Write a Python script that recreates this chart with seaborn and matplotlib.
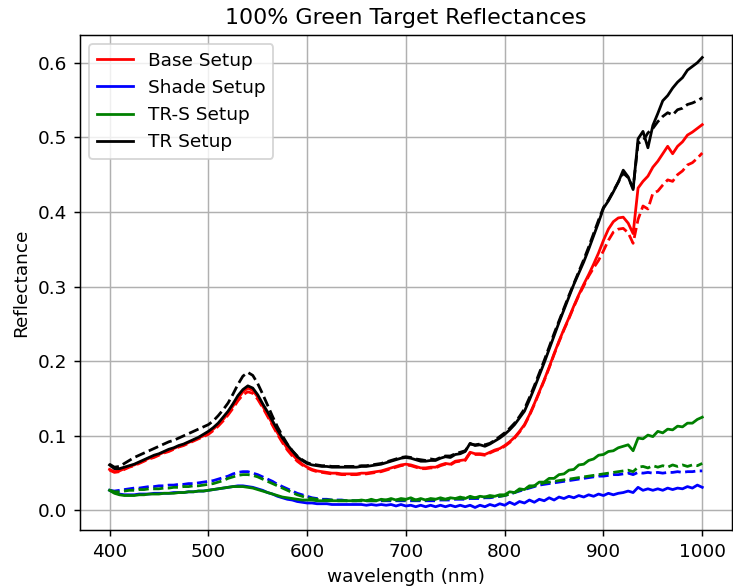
import matplotlib
matplotlib.use("Agg")
import matplotlib.pyplot as plt
import seaborn as sns

# Wavelength grid (nm), 5 nm steps
wavelength = list(range(400, 1001, 5))

# Base Setup (red)
base_solid = [
    .055, .052, .053, .056, .059, .061, .064, .067, .070, .072,
    .075, .078, .080, .083, .086, .088, .091, .094, .097, .100,
    .104, .109, .115, .122, .130, .140, .150, .159, .164, .161,
    .152, .140, .128, .116, .104, .093, .083, .075, .068, .062,
    .058, .055, .053, .052, .051, .050, .050, .049, .049, .049,
    .049, .050, .050, .051, .052, .053, .055, .057, .059, .061,
    .062, .061, .059, .057, .057, .058, .058, .061, .063, .062,
    .066, .067, .068, .078, .076, .076, .075, .078, .081, .083,
    .087, .092, .098, .106, .115, .128, .143, .159, .175, .192,
    .210, .227, .243, .258, .274, .289, .303, .316, .330, .345,
    .362, .377, .387, .392, .393, .385, .371, .432, .441, .448,
    .460, .468, .478, .488, .478, .488, .494, .503, .507, .512,
    .517]
base_dash = [
    .054, .051, .052, .055, .058, .060, .063, .066, .069, .071,
    .074, .077, .079, .082, .085, .087, .090, .093, .096, .099,
    .102, .107, .113, .120, .128, .137, .147, .155, .159, .157,
    .149, .138, .126, .114, .102, .091, .081, .073, .066, .061,
    .057, .054, .052, .051, .050, .049, .049, .048, .048, .048,
    .048, .049, .049, .050, .051, .052, .054, .056, .058, .060,
    .061, .060, .058, .056, .056, .057, .057, .060, .062, .061,
    .065, .066, .067, .077, .075, .075, .074, .077, .080, .082,
    .086, .091, .097, .105, .114, .127, .142, .158, .174, .191,
    .209, .226, .242, .257, .273, .288, .301, .314, .325, .335,
    .348, .362, .373, .377, .378, .372, .358, .390, .408, .404,
    .425, .428, .436, .443, .441, .450, .455, .463, .466, .472,
    .479]

# Shade Setup (blue)
shade_solid = [
    .027, .024, .022, .021, .021, .021, .022, .022, .022, .023,
    .023, .023, .023, .024, .024, .024, .025, .025, .026, .026,
    .027, .028, .029, .030, .031, .032, .033, .033, .032, .031,
    .029, .027, .024, .022, .019, .017, .015, .014, .012, .011,
    .010, .010, .009, .009, .009, .008, .008, .008, .008, .008,
    .008, .008, .007, .008, .007, .008, .007, .008, .006, .008,
    .006, .007, .005, .007, .005, .007, .005, .007, .005, .007,
    .005, .007, .005, .007, .004, .007, .005, .008, .006, .009,
    .007, .011, .008, .012, .010, .014, .011, .015, .013, .017,
    .014, .018, .016, .019, .017, .020, .018, .021, .019, .022,
    .020, .023, .021, .023, .024, .026, .024, .031, .027, .029,
    .027, .029, .027, .030, .028, .030, .029, .032, .030, .034,
    .031]
shade_dash = [
    .027, .026, .027, .028, .029, .030, .030, .031, .032, .032,
    .033, .033, .034, .034, .035, .035, .036, .036, .037, .038,
    .039, .040, .042, .044, .046, .049, .051, .052, .052, .050,
    .048, .045, .042, .039, .035, .032, .029, .026, .023, .021,
    .019, .017, .016, .015, .015, .014, .014, .014, .013, .013,
    .013, .013, .013, .013, .013, .013, .013, .013, .013, .013,
    .013, .013, .013, .013, .013, .013, .013, .014, .014, .014,
    .015, .015, .015, .016, .016, .016, .017, .017, .018, .019,
    .020, .022, .024, .026, .028, .030, .032, .034, .035, .036,
    .037, .038, .039, .040, .041, .042, .043, .044, .045, .046,
    .046, .047, .048, .048, .049, .050, .048, .051, .050, .051,
    .050, .051, .050, .051, .051, .052, .051, .052, .052, .053,
    .053]

# TR-S Setup (green)
trs_solid = [
    .027, .023, .021, .020, .020, .020, .021, .021, .022, .022,
    .022, .023, .023, .023, .024, .024, .025, .025, .026, .026,
    .027, .028, .029, .030, .031, .032, .032, .032, .031, .030,
    .028, .026, .024, .022, .020, .018, .017, .016, .015, .014,
    .014, .014, .013, .013, .013, .013, .013, .013, .013, .013,
    .013, .014, .013, .015, .013, .015, .014, .016, .014, .016,
    .015, .017, .014, .016, .014, .016, .015, .017, .015, .017,
    .016, .018, .016, .019, .017, .019, .018, .020, .019, .021,
    .021, .025, .024, .029, .028, .033, .033, .038, .038, .043,
    .043, .048, .049, .054, .055, .061, .062, .067, .069, .074,
    .075, .079, .080, .084, .086, .088, .080, .097, .096, .101,
    .099, .106, .104, .109, .108, .113, .112, .117, .117, .122,
    .125]
trs_dash = [
    .027, .025, .025, .026, .027, .027, .028, .028, .029, .029,
    .029, .030, .030, .031, .031, .032, .032, .033, .033, .034,
    .035, .036, .038, .040, .043, .045, .047, .048, .048, .047,
    .045, .042, .039, .036, .033, .030, .027, .024, .021, .019,
    .017, .016, .015, .014, .014, .014, .013, .013, .013, .013,
    .013, .013, .013, .013, .013, .013, .014, .014, .014, .014,
    .014, .014, .014, .014, .014, .015, .015, .015, .015, .016,
    .016, .016, .017, .017, .017, .018, .018, .018, .019, .019,
    .020, .022, .024, .027, .029, .031, .033, .035, .037, .038,
    .039, .040, .041, .042, .043, .044, .045, .046, .047, .048,
    .049, .050, .051, .052, .053, .054, .052, .058, .059, .057,
    .060, .058, .060, .058, .061, .059, .061, .059, .061, .060,
    .063]

# TR Setup (black)
tr_solid = [
    .061, .056, .056, .058, .060, .062, .065, .068, .071, .074,
    .076, .079, .082, .084, .087, .089, .092, .095, .098, .102,
    .106, .111, .117, .125, .133, .143, .154, .162, .167, .164,
    .155, .143, .132, .120, .108, .097, .088, .080, .072, .067,
    .063, .061, .060, .059, .059, .058, .058, .058, .058, .058,
    .058, .059, .059, .060, .061, .062, .064, .066, .068, .070,
    .071, .070, .068, .066, .066, .067, .067, .070, .072, .071,
    .075, .076, .079, .090, .087, .088, .086, .089, .093, .097,
    .102, .108, .115, .124, .133, .148, .164, .181, .198, .216,
    .234, .252, .269, .286, .303, .318, .333, .350, .368, .386,
    .405, .415, .427, .440, .456, .447, .430, .498, .508, .486,
    .516, .532, .549, .556, .566, .574, .580, .590, .595, .600,
    .607]
tr_dash = [
    .062, .058, .059, .063, .067, .071, .074, .077, .080, .083,
    .086, .089, .092, .094, .097, .100, .103, .106, .109, .112,
    .115, .120, .127, .135, .144, .156, .169, .180, .185, .181,
    .170, .156, .141, .126, .112, .100, .089, .080, .073, .068,
    .064, .062, .061, .060, .060, .059, .059, .059, .059, .059,
    .059, .060, .060, .061, .062, .063, .065, .067, .069, .071,
    .072, .071, .069, .068, .067, .069, .068, .071, .073, .073,
    .076, .078, .080, .089, .088, .089, .088, .090, .094, .099,
    .104, .110, .117, .126, .136, .151, .167, .184, .201, .219,
    .237, .254, .271, .288, .304, .320, .336, .353, .371, .389,
    .406, .416, .428, .440, .452, .446, .432, .492, .495, .506,
    .512, .521, .528, .533, .530, .537, .539, .544, .546, .549,
    .553]

setups = ["Base Setup", "Shade Setup", "TR-S Setup", "TR Setup"]
colors = ["red", "blue", "green", "black"]
solid_series = [base_solid, shade_solid, trs_solid, tr_solid]
dash_series = [base_dash, shade_dash, trs_dash, tr_dash]

plt.rcParams["font.family"] = ["DejaVu Sans"]

DPI = 133
fig = plt.figure(figsize=(733 / DPI, 586 / DPI), dpi=DPI)
ax = fig.add_axes([0.109, 0.0956, 0.8895, 0.8447])

handles = []
for name, col, ys, yd in zip(setups, colors, solid_series, dash_series):
    sns.lineplot(x=wavelength, y=ys, color=col, linewidth=1.5,
                 estimator=None, sort=False, ax=ax)
    handles.append(ax.lines[-1])
    sns.lineplot(x=wavelength, y=yd, color=col, linewidth=1.5,
                 linestyle="--", estimator=None, sort=False, ax=ax)

for h, name in zip(handles, setups):
    h.set_label(name)

ax.grid(True, color="#b0b0b0", linewidth=0.8)
ax.tick_params(axis="both", which="major", labelsize=10, colors="black")
ax.set_xticks([400, 500, 600, 700, 800, 900, 1000])
ax.set_title("100% Green Target Reflectances", fontsize=12, color="black")
ax.set_xlabel("wavelength (nm)", fontsize=10, color="black")
ax.set_ylabel("Reflectance", fontsize=10, color="black")
ax.legend(handles=handles, labels=setups, loc="upper left", fontsize=10,
          frameon=True)

fig.savefig("out.png", dpi=DPI)
